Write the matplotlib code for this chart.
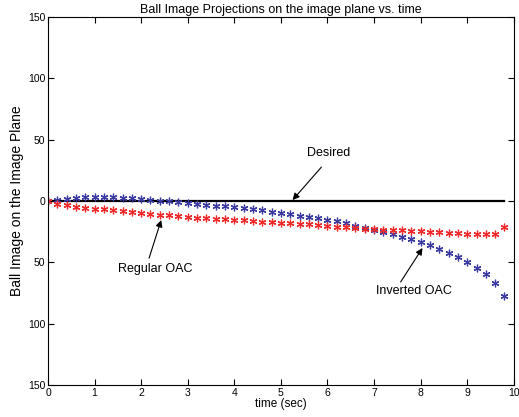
import numpy as np
import matplotlib
matplotlib.use("Agg")
from matplotlib import pyplot as plt

plt.rcParams.update({'font.family': ['Liberation Sans', 'DejaVu Sans'], 'font.size': 7.5})

# time samples (sec)
time = [0.0, 0.2, 0.4, 0.6, 0.8, 1.0, 1.2, 1.4, 1.6, 1.8,
        2.0, 2.2, 2.4, 2.6, 2.8, 3.0, 3.2, 3.4, 3.6, 3.8,
        4.0, 4.2, 4.4, 4.6, 4.8, 5.0, 5.2, 5.4, 5.6, 5.8,
        6.0, 6.2, 6.4, 6.6, 6.8, 7.0, 7.2, 7.4, 7.6, 7.8,
        8.0, 8.2, 8.4, 8.6, 8.8, 9.0, 9.2, 9.4, 9.6, 9.8]

# inverted OAC (blue)
inverted = [0.0, 1.0, 2.0, 2.7, 3.0, 3.2, 3.2, 3.0, 2.6, 2.1,
            1.6, 1.0, 0.4, -0.2, -0.8, -1.5, -2.4, -3.2, -3.8, -4.4,
            -5.2, -6.0, -6.8, -7.6, -8.7, -9.6, -10.8, -12.0, -13.2, -14.1,
            -15.2, -16.3, -18.0, -20.1, -22.0, -23.6, -25.5, -27.2, -29.1, -31.2,
            -33.4, -35.5, -39.1, -42.1, -45.6, -49.4, -54.3, -59.5, -66.6, -77.4]

# regular OAC (red)
regular = [0.0, -2.5, -3.6, -4.8, -5.5, -6.1, -6.8, -7.6, -8.2, -9.0,
           -9.8, -10.4, -11.0, -11.7, -12.2, -12.8, -13.5, -14.0, -14.4, -14.9,
           -15.3, -15.8, -16.3, -16.8, -17.3, -17.7, -18.2, -18.6, -19.1, -19.6,
           -20.1, -20.8, -21.5, -22.2, -22.6, -23.1, -23.4, -23.6, -23.9, -24.2,
           -24.5, -25.0, -25.5, -25.8, -26.1, -26.6, -26.9, -27.2, -26.9, -21.0]

desired = [0.0] * len(time)

y_ticks = [150, 100, 50, 0, -50, -100, -150]
y_tick_labels = ["150", "100", "50", "0", "50", "100", "150"]


def main():
    fig = plt.figure(figsize=(5.19, 4.17), dpi=100)
    ax = fig.add_axes([0.0925, 0.0767, 0.8975, 0.8823])

    # MATLAB-style asterisk marker
    asterisk = (6, 2, 0)

    ax.plot(time, desired, color="black", linewidth=1.6)
    ax.plot(time, inverted, linestyle="none", marker=asterisk, markersize=5.5,
            markeredgewidth=0.9, color="#3a3aa0")
    ax.plot(time, regular, linestyle="none", marker=asterisk, markersize=5.5,
            markeredgewidth=0.9, color="#ee2a2a")

    arrow = dict(arrowstyle="-|>", color="black", lw=0.8, mutation_scale=10,
                 shrinkA=0, shrinkB=0)
    ax.annotate("", xy=(5.25, 0.8), xytext=(5.87, 27.7), arrowprops=arrow)
    ax.text(6.02, 39, "Desired", ha="center", va="center", fontsize=9)
    ax.annotate("", xy=(2.43, -15.5), xytext=(2.17, -46.5), arrowprops=arrow)
    ax.text(2.31, -55, "Regular OAC", ha="center", va="center", fontsize=9)
    ax.annotate("", xy=(8.04, -38.3), xytext=(7.57, -66), arrowprops=arrow)
    ax.text(7.86, -73, "Inverted OAC", ha="center", va="center", fontsize=9)

    ax.set_xlim(0, 10)
    ax.set_ylim(-150, 150)
    ax.set_xticks(range(0, 11))
    ax.set_yticks(y_ticks)
    ax.set_yticklabels(y_tick_labels)
    ax.tick_params(direction="in", length=4, top=True, right=True, pad=2)
    for spine in ax.spines.values():
        spine.set_linewidth(0.8)

    ax.set_xlabel("time (sec)", fontsize=8.5, labelpad=0)
    ax.set_ylabel("Ball Image on the Image Plane", fontsize=10, labelpad=3)
    ax.set_title("Ball Image Projections on the image plane vs. time", pad=3)

    fig.savefig("out.png", dpi=100)


if __name__ == "__main__":
    main()
